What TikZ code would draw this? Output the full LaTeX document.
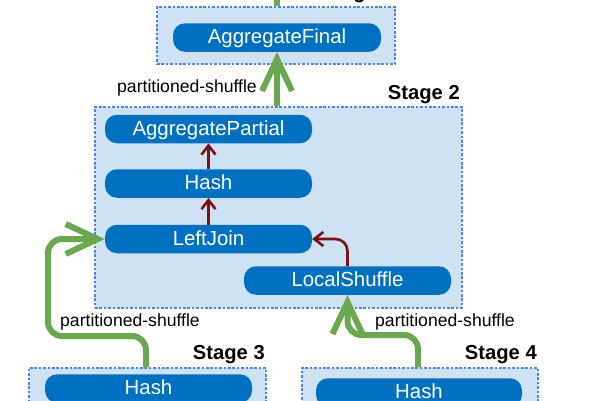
\documentclass[tikz,border=0pt]{standalone}
\usepackage{fontspec}
\setmainfont{Liberation Sans}
\usetikzlibrary{arrows.meta,calc}
\definecolor{opblue}{HTML}{0070C0}
\definecolor{stagefill}{HTML}{CFE2F3}
\definecolor{stageline}{HTML}{4A86E8}
\definecolor{shufgreen}{HTML}{6AA84F}
\definecolor{localred}{RGB}{122,16,16}
\tikzset{
  stagebox/.style={draw=stageline, fill=stagefill, line width=1.2pt, dash pattern=on 2.6pt off 1.8pt, inner sep=0pt},
  opnode/.style={fill=opblue, text=white, rounded corners=12pt, inner sep=0pt, minimum height=28.5pt, minimum width=207pt,
     font=\fontsize{20.4}{24}\selectfont, text height=14.7pt, text depth=2pt},
  stagelabel/.style={anchor=base east, inner sep=0pt, font=\fontsize{20.2}{24}\selectfont\bfseries},
  shuflabel/.style={inner sep=0pt, font=\fontsize{17.6}{21}\selectfont},
  garrow/.style={draw=shufgreen, line width=6pt, -{Straight Barb[length=32pt,width=30pt]}},
  rarrow/.style={draw=localred, line width=2.6pt, -{Straight Barb[length=9pt,width=14pt]}}
}
\begin{document}
\begin{tikzpicture}[x=1pt,y=-1pt]
\useasboundingbox (0,0) rectangle (600,400);
\clip (0,0) rectangle (600,400);
% stage boxes
\node[stagebox, minimum width=238pt, minimum height=57pt] (s1) at (276,35.5) {};
\node[stagebox, minimum width=367pt, minimum height=201pt] (s2) at (278.5,207.5) {};
\node[stagebox, minimum width=237pt, minimum height=62pt] (s3) at (147.5,399) {};
\node[stagebox, minimum width=236pt, minimum height=62pt] (s4) at (420,399) {};
% stage labels
\node[stagelabel] (l1) at (394,-2) {Stage 1};
\node[stagelabel] (l2) at (460,99) {Stage 2};
\node[stagelabel] (l3) at (265,359) {Stage 3};
\node[stagelabel] (l4) at (537,359) {Stage 4};
% operators
\node[opnode, minimum width=208pt] (af) at (277,37.5) {AggregateFinal};
\node[opnode] (ap) at (208.5,129) {AggregatePartial};
\node[opnode] (h2) at (208.5,183.5) {Hash};
\node[opnode] (lj) at (208.5,239) {LeftJoin};
\node[opnode] (ls) at (347.5,280.5) {LocalShuffle};
\node[opnode] (h3) at (148.5,388.5) {Hash};
\node[opnode, minimum width=206pt] (h4) at (419,392.5) {Hash};
% shuffle labels
\node[shuflabel, anchor=base east] (p1) at (257,92) {partitioned-shuffle};
\node[shuflabel, anchor=base west] (p3) at (60,326) {partitioned-shuffle};
\node[shuflabel, anchor=base west] (p4) at (375,326) {partitioned-shuffle};
% green shuffle arrows
\coordinate (top1) at (277,-20);
\coordinate (c3) at (48,336);
\coordinate (c4) at (347.5,335);
\draw[draw=shufgreen, line width=6pt] (af.south |- s1.north) -- (top1);
\draw[garrow] (af.south |- s2.north) -- (af.south);
\draw[garrow, rounded corners=14pt] (146,0 |- s3.north) |- (c3) |- (lj.west);
\draw[garrow, rounded corners=14pt] (418,0 |- s4.north) |- (c4) -- (ls.south);
% local arrows
\draw[rarrow] (h2.north) -- (ap.south);
\draw[rarrow] (lj.north) -- (h2.south);
\draw[rarrow, rounded corners=12pt] (ls.north) |- (lj.east);
\end{tikzpicture}
\end{document}
